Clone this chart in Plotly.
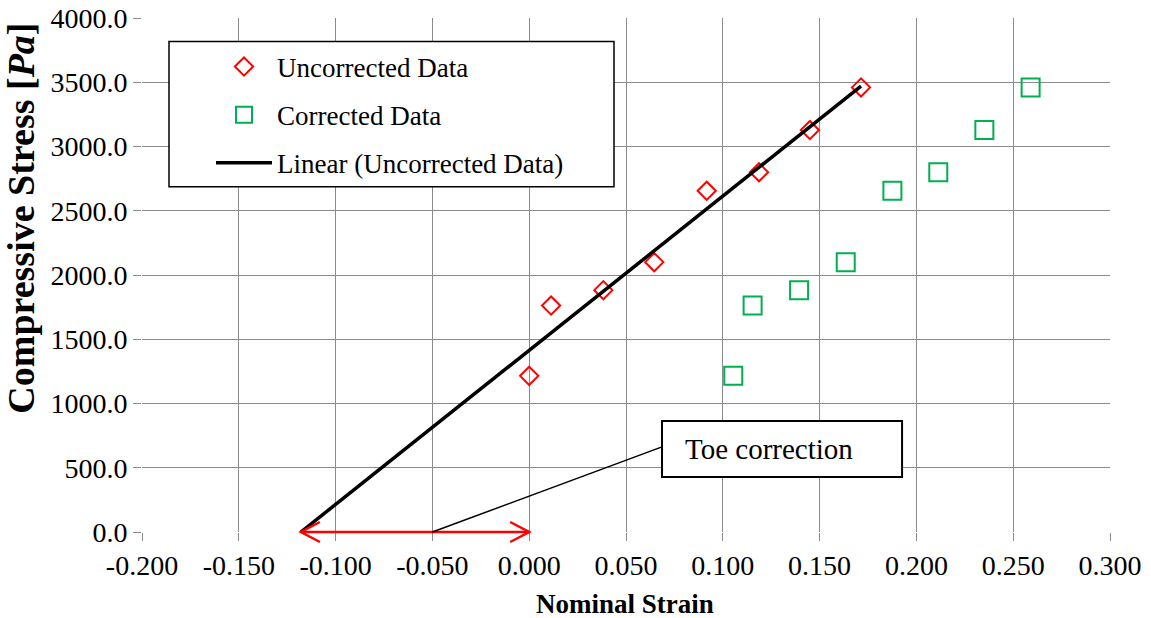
import numpy as np
import plotly.graph_objects as go

# ---- data ----
stress = [1215, 1762, 1882, 2100, 2655, 2800, 3128, 3460]
strain_uncorrected = [0.000, 0.0113, 0.0383, 0.0646, 0.0917, 0.1187, 0.1450, 0.1714]
strain_corrected = [0.1054, 0.1154, 0.1394, 0.1635, 0.1876, 0.2113, 0.2351, 0.2590]

x_ticks = [-0.2, -0.15, -0.1, -0.05, 0.0, 0.05, 0.1, 0.15, 0.2, 0.25, 0.3]
y_ticks = [0, 500, 1000, 1500, 2000, 2500, 3000, 3500, 4000]
x_ticktext = [f"{v:.3f}" for v in x_ticks]   # plain hyphen minus, as in the reference
y_ticktext = [f"{v:.1f}" for v in y_ticks]

# linear trendline (least squares) of the uncorrected data, extended back to zero stress
slope, intercept = np.polyfit(strain_uncorrected, stress, 1)
x_toe = -intercept / slope
trend_x = [x_toe, max(strain_uncorrected)]
trend_y = [slope * v + intercept for v in trend_x]

FONT = "Liberation Serif, Times New Roman, serif"
GRID = "#8a8a8a"

fig = go.Figure()
fig.add_trace(go.Scatter(
    x=strain_uncorrected, y=stress, mode="markers", name="Uncorrected Data",
    legendgroup="a",
    marker=dict(symbol="diamond-open", size=14, color="#ff0000", line=dict(width=2, color="#ff0000")),
))
fig.add_trace(go.Scatter(
    x=strain_corrected, y=stress, mode="markers", name="Corrected Data",
    legendgroup="b",
    marker=dict(symbol="square-open", size=18, color="#00b050", line=dict(width=2, color="#00b050")),
))
fig.add_trace(go.Scatter(
    x=trend_x, y=trend_y, mode="lines", name="Linear (Uncorrected Data)",
    legendgroup="c",
    line=dict(color="black", width=3.5),
))

shapes = []
# legend box
shapes.append(dict(type="rect", xref="paper", yref="paper",
                   x0=(169 - 142) / 968, x1=(614 - 142) / 968,
                   y0=(532 - 187) / 513.5, y1=(532 - 42) / 513.5,
                   fillcolor="white", line=dict(color="black", width=1.5), layer="above"))
# red double arrow: toe correction from x-intercept to zero strain
shapes.append(dict(type="line", xref="x", yref="paper", x0=x_toe, x1=0.0, y0=0, y1=0,
                   line=dict(color="#ff0000", width=2.5), layer="above"))
shapes.append(dict(type="path", xref="x", yref="paper", xsizemode="pixel", ysizemode="pixel",
                   xanchor=x_toe, yanchor=0, path="M19,10 L0,0 L19,-10",
                   line=dict(color="#ff0000", width=2.5), layer="above"))
shapes.append(dict(type="path", xref="x", yref="paper", xsizemode="pixel", ysizemode="pixel",
                   xanchor=0.0, yanchor=0, path="M-19,10 L0,0 L-19,-10",
                   line=dict(color="#ff0000", width=2.5), layer="above"))
# callout box and leader line
box_x0, box_x1, box_y0, box_y1 = 0.0686, 0.1926, 428, 864
shapes.append(dict(type="rect", xref="x", yref="y", x0=box_x0, x1=box_x1, y0=box_y0, y1=box_y1,
                   fillcolor="white", line=dict(color="black", width=2), layer="above"))
shapes.append(dict(type="line", xref="x", yref="paper", x0=-0.05, x1=box_x0,
                   y0=0, y1=(532 - 447) / 513.5, line=dict(color="black", width=1.5), layer="above"))

annotations = [
    dict(text="Toe correction", xref="x", yref="y", x=0.0795, y=(box_y0 + box_y1) / 2,
         xanchor="left", yanchor="middle", showarrow=False,
         font=dict(family=FONT, size=29, color="black")),
    dict(text="<b>Compressive Stress [<i>Pa</i>]</b>", xref="paper", yref="paper",
         x=(21 - 142) / 968, y=(532 - 219) / 513.5, xanchor="center", yanchor="middle",
         textangle=-90, showarrow=False, font=dict(family=FONT, size=38, color="black")),
    dict(text="<b>Nominal Strain</b>", xref="paper", yref="paper",
         x=(625 - 142) / 968, y=(532 - 604) / 513.5, xanchor="center", yanchor="middle",
         showarrow=False, font=dict(family=FONT, size=27, color="black")),
]

fig.update_layout(
    width=1151, height=618,
    margin=dict(l=142, r=41, t=18, b=86),
    paper_bgcolor="white", plot_bgcolor="white",
    font=dict(family=FONT, size=27, color="black"),
    shapes=shapes, annotations=annotations,
    showlegend=True,
    legend=dict(x=(211 - 142) / 968, y=(532 - 43) / 513.5, xanchor="left", yanchor="top",
                bgcolor="rgba(0,0,0,0)", borderwidth=0, itemwidth=56,
                tracegroupgap=10, font=dict(family=FONT, size=27, color="black")),
    xaxis=dict(range=[-0.2, 0.3], tickvals=x_ticks, ticktext=x_ticktext, automargin=False,
               showgrid=True, gridcolor=GRID, gridwidth=1.3, zeroline=False,
               showline=False, ticks="outside", ticklen=8, tickcolor=GRID, tickwidth=1.3,
               tickfont=dict(family=FONT, size=28, color="black")),
    yaxis=dict(range=[0, 4000], tickvals=y_ticks, ticktext=y_ticktext, automargin=False,
               showgrid=True, gridcolor=GRID, gridwidth=1.3, zeroline=False,
               showline=False, ticks="outside", ticklen=8, tickcolor=GRID, tickwidth=1.3,
               tickfont=dict(family=FONT, size=28, color="black")),
)

fig.write_html("out.html")
